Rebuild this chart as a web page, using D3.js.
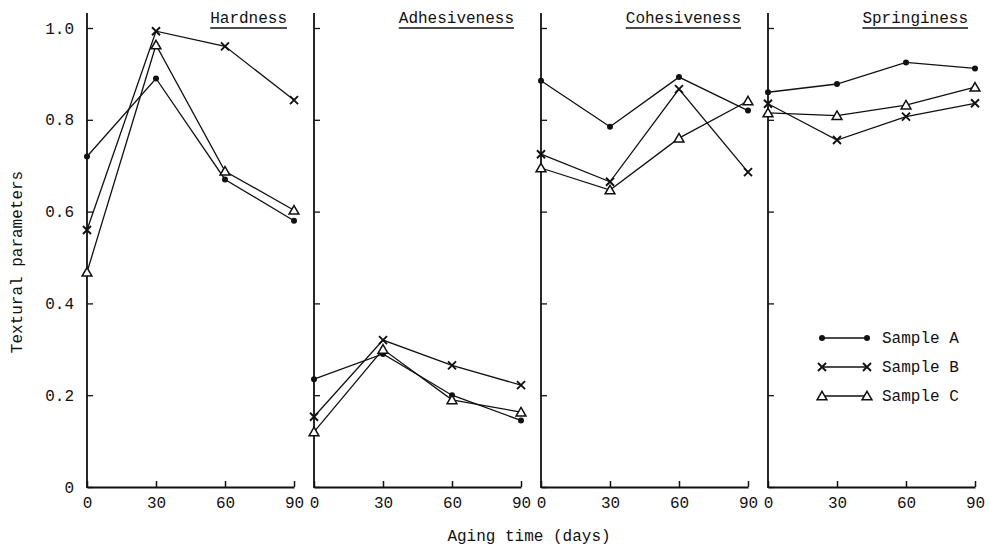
<!DOCTYPE html>
<html>
<head>
<meta charset="utf-8">
<script src="https://cdn.jsdelivr.net/npm/d3@7"></script>
<style>
  html, body { margin: 0; padding: 0; background: #fff; }
  svg { display: block; }
</style>
</head>
<body>
<div id="chart"></div>
<script>
// Data
var days = [0, 30, 60, 90];
var panels = ['Hardness', 'Adhesiveness', 'Cohesiveness', 'Springiness'];
var yTicks = [0, 0.2, 0.4, 0.6, 0.8, 1.0];
var sampleNames = ['Sample A', 'Sample B', 'Sample C'];
var sampleA = [[0.72, 0.89, 0.67, 0.58], [0.235, 0.29, 0.20, 0.145], [0.885, 0.785, 0.893, 0.82], [0.86, 0.878, 0.925, 0.912]];
var sampleB = [[0.56, 0.993, 0.96, 0.843], [0.153, 0.32, 0.265, 0.222], [0.725, 0.665, 0.867, 0.686], [0.835, 0.756, 0.807, 0.836]];
var sampleC = [[0.468, 0.963, 0.688, 0.603], [0.12, 0.30, 0.19, 0.163], [0.695, 0.647, 0.76, 0.841], [0.815, 0.809, 0.832, 0.871]];

(function() {
  var W = 989, H = 551;
  var FONT = '"Liberation Mono", "DejaVu Sans Mono", monospace';
  var INK = '#111';
  var panelLeft = 87, panelW = 207, panelStep = 227;
  var yTop = 13;

  var svg = d3.select('#chart').append('svg').attr('width', W).attr('height', H);

  var y = d3.scaleLinear().domain([0, 1.0]).range([487, 28]);
  var samples = [
    { name: sampleNames[0], values: sampleA, marker: 'dot' },
    { name: sampleNames[1], values: sampleB, marker: 'cross' },
    { name: sampleNames[2], values: sampleC, marker: 'tri' }
  ];

  function drawMarker(sel, type, cx, cy) {
    if (type === 'dot') {
      sel.append('circle').attr('cx', cx).attr('cy', cy).attr('r', 3).attr('fill', INK);
    } else if (type === 'cross') {
      var s = 4;
      sel.append('path')
        .attr('d', 'M' + (cx - s) + ',' + (cy - s) + 'L' + (cx + s) + ',' + (cy + s) + 'M' + (cx + s) + ',' + (cy - s) + 'L' + (cx - s) + ',' + (cy + s))
        .attr('stroke', INK).attr('stroke-width', 1.9).attr('fill', 'none');
    } else {
      sel.append('path')
        .attr('d', d3.symbol(d3.symbolTriangle, 42)())
        .attr('transform', 'translate(' + cx + ',' + (cy + 1) + ')')
        .attr('fill', '#fff').attr('stroke', INK).attr('stroke-width', 1.5);
    }
  }

  panels.forEach(function(title, p) {
    var x0 = panelLeft + p * panelStep;
    var x = d3.scaleLinear().domain([0, 90]).range([0, panelW]);
    var g = svg.append('g').attr('transform', 'translate(' + x0 + ',0)');

    // y axis: inward ticks, labels only on first panel
    var ya = g.append('g')
      .call(d3.axisLeft(y).tickValues(yTicks).tickSizeInner(-6).tickSizeOuter(0).tickPadding(13)
        .tickFormat(function(d) { return p === 0 ? (d === 0 ? '0' : d.toFixed(1)) : ''; }));
    ya.select('.domain').remove();
    ya.selectAll('.tick line').attr('stroke', INK).attr('stroke-width', 1.3);
    ya.selectAll('.tick text').attr('fill', INK).attr('font-size', '16px').attr('font-family', FONT);
    g.append('line').attr('x1', 0).attr('x2', 0).attr('y1', yTop).attr('y2', y(0) + 1)
      .attr('stroke', INK).attr('stroke-width', 1.8);

    // x axis
    var xa = g.append('g').attr('transform', 'translate(0,' + y(0) + ')')
      .call(d3.axisBottom(x).tickValues(days).tickSizeInner(-6).tickSizeOuter(0).tickPadding(10)
        .tickFormat(d3.format('d')));
    xa.select('.domain').attr('stroke', INK).attr('stroke-width', 1.8);
    xa.selectAll('.tick line').attr('stroke', INK).attr('stroke-width', 1.5);
    xa.selectAll('.tick text').attr('fill', INK).attr('font-size', '16px').attr('font-family', FONT);

    // title, underlined
    var t = g.append('text').attr('x', panelW - 7).attr('y', 23).attr('text-anchor', 'end')
      .attr('fill', INK).attr('font-size', '16px').attr('font-family', FONT).text(title);
    var tw = t.node().getComputedTextLength();
    g.append('line').attr('x1', panelW - 7 - tw).attr('x2', panelW - 7).attr('y1', 28).attr('y2', 28)
      .attr('stroke', INK).attr('stroke-width', 1.4);

    // series
    var line = d3.line().x(function(d, i) { return x(days[i]); }).y(function(d) { return y(d); });
    samples.forEach(function(s) {
      var vals = s.values[p];
      g.append('path').attr('d', line(vals)).attr('fill', 'none').attr('stroke', INK).attr('stroke-width', 1.3);
    });
    samples.forEach(function(s) {
      var vals = s.values[p];
      vals.forEach(function(v, i) { drawMarker(g, s.marker, x(days[i]), y(v)); });
    });
  });

  // axis titles
  svg.append('text').attr('transform', 'rotate(-90)').attr('x', -262).attr('y', 22)
    .attr('text-anchor', 'middle').attr('fill', INK).attr('font-size', '16px').attr('font-family', FONT)
    .text('Textural parameters');
  svg.append('text').attr('x', 529).attr('y', 541)
    .attr('text-anchor', 'middle').attr('fill', INK).attr('font-size', '16px').attr('font-family', FONT)
    .text('Aging time (days)');

  // legend
  var lg = svg.append('g');
  samples.forEach(function(s, i) {
    var ly = 338 + i * 29;
    lg.append('line').attr('x1', 822).attr('x2', 867).attr('y1', ly).attr('y2', ly)
      .attr('stroke', INK).attr('stroke-width', 1.3);
    drawMarker(lg, s.marker, 822, ly);
    drawMarker(lg, s.marker, 867, ly);
    lg.append('text').attr('x', 882).attr('y', ly + 5).attr('fill', INK)
      .attr('font-size', '16px').attr('font-family', FONT).text(s.name);
  });
})();
</script>
</body>
</html>
